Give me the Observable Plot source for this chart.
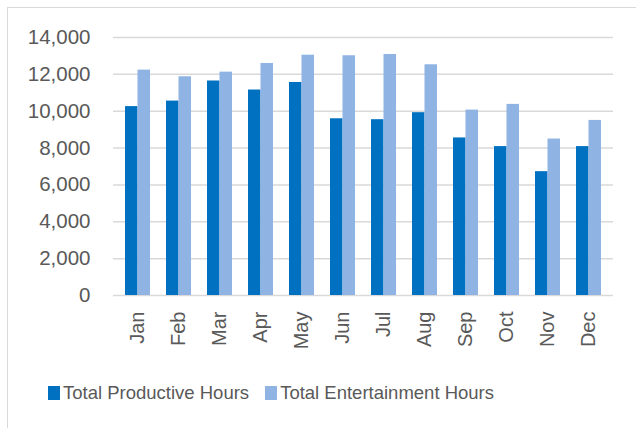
<!DOCTYPE html>
<html><head><meta charset="utf-8">
<script src="https://cdn.jsdelivr.net/npm/d3@7"></script>
<script src="https://cdn.jsdelivr.net/npm/@observablehq/plot@0.6"></script>
<style>
html,body{margin:0;padding:0;background:#fff;overflow:hidden;width:636px;height:428px}
#frame{position:absolute;left:7px;top:7px;width:700px;height:500px;border:1px solid #d9d9d9;box-sizing:border-box}
#chart{position:absolute;left:0;top:0}
#legend{position:absolute;left:48px;top:382px;display:flex;align-items:center;font-family:"Liberation Sans",Arial,sans-serif;font-size:18.5px;color:#595959;white-space:nowrap}
.item{display:flex;align-items:center}
.sw{width:12px;height:14px;display:inline-block;margin-right:3px}
</style></head>
<body>
<div id="frame"></div>
<div id="chart"></div>
<div id="legend"></div>
<script>
const months = ["Jan","Feb","Mar","Apr","May","Jun","Jul","Aug","Sep","Oct","Nov","Dec"];
const productive = [10250, 10550, 11640, 11150, 11560, 9590, 9540, 9920, 8550, 8080, 6720, 8080];
const entertainment = [12230, 11870, 12120, 12590, 13040, 13010, 13080, 12520, 10060, 10370, 8490, 9500];
const seriesNames = ["Total Productive Hours", "Total Entertainment Hours"];
const seriesColors = ["#0070c0", "#8fb4e3"];
const yTicks = [0, 2000, 4000, 6000, 8000, 10000, 12000, 14000];

const data = months.map((m, i) => ({month: m, productive: productive[i], entertainment: entertainment[i]}));

const W = 636, H = 360, ml = 113, mr = 23, mt = 37, mb = 65;
const step = (W - ml - mr) / months.length;
const band = step * 0.6;
const half = band / 2;

const chart = Plot.plot({
  width: W, height: H,
  marginLeft: ml, marginRight: mr, marginTop: mt, marginBottom: mb,
  style: {fontFamily: '"Liberation Sans", Arial, sans-serif', color: "#595959", background: "transparent", overflow: "visible"},
  x: {domain: months, paddingInner: 0.4, paddingOuter: 0.2, label: null},
  y: {domain: [0, 14000], label: null},
  marks: [
    Plot.gridY(yTicks, {stroke: "#d9d9d9", strokeOpacity: 1, strokeWidth: 1.5}),
    Plot.barY(data, {x: "month", y: "productive", fill: seriesColors[0], insetRight: half}),
    Plot.barY(data, {x: "month", y: "entertainment", fill: seriesColors[1], insetLeft: half}),
    Plot.axisY(yTicks, {tickSize: 0, tickPadding: 23, tickFormat: d3.format(","), fontSize: 20.5, fill: "#595959", label: null}),
    Plot.axisX({tickSize: 0, tickRotate: -90, tickPadding: 16, fontSize: 20, fill: "#595959", label: null})
  ]
});
document.getElementById("chart").appendChild(chart);

const legend = document.getElementById("legend");
seriesNames.forEach((name, i) => {
  const item = document.createElement("span");
  item.className = "item";
  if (i > 0) item.style.marginLeft = "16px";
  const sw = document.createElement("span");
  sw.className = "sw";
  sw.style.background = seriesColors[i];
  item.appendChild(sw);
  item.appendChild(document.createTextNode(name));
  legend.appendChild(item);
});
</script>
</body></html>
